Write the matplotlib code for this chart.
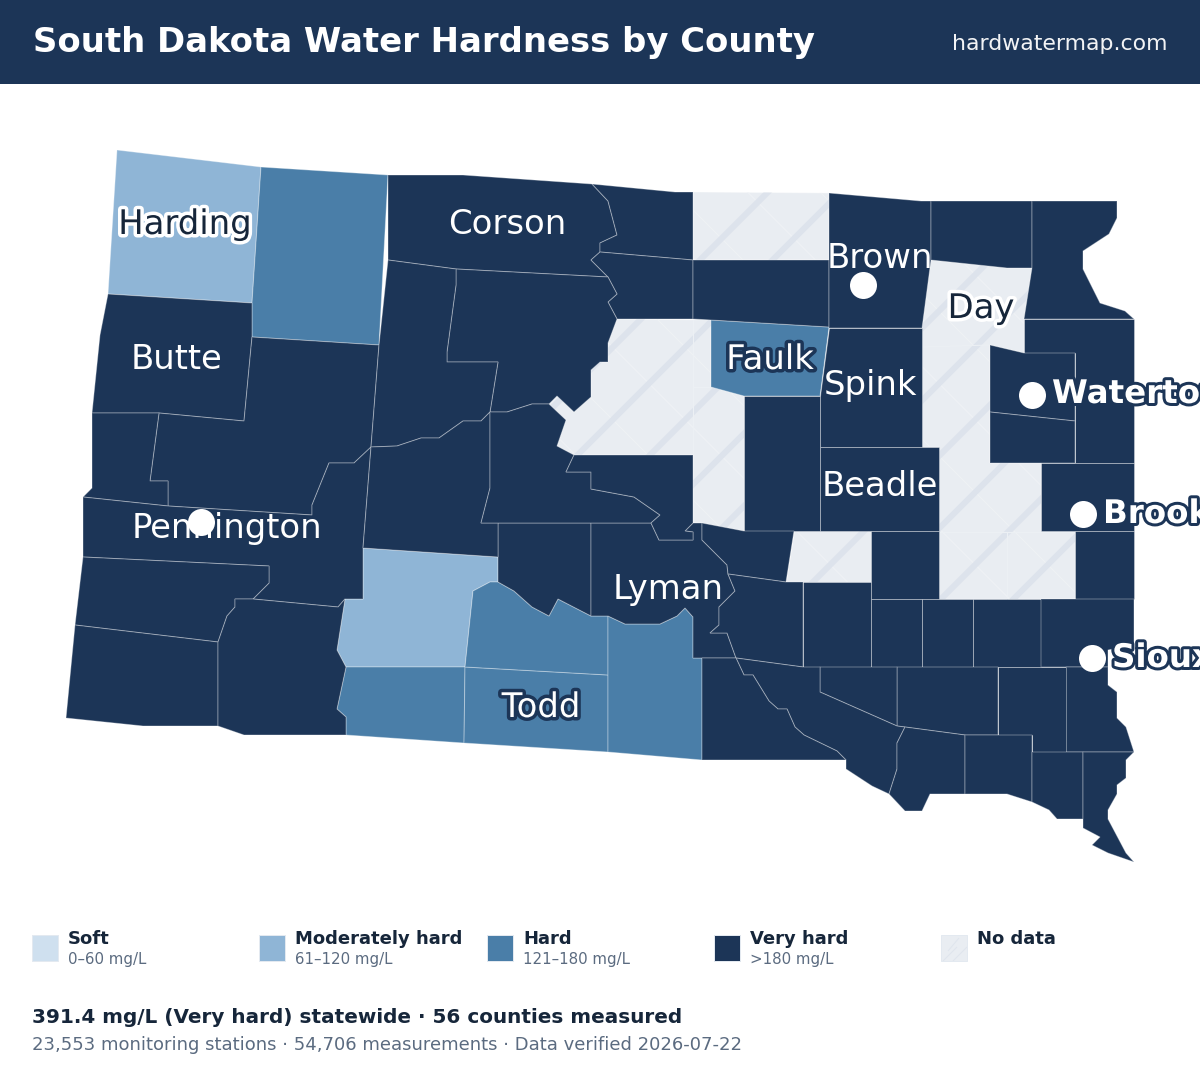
import numpy as np
import matplotlib
matplotlib.use('Agg')
import matplotlib.pyplot as plt
import matplotlib.patheffects as pe
from matplotlib.patches import Polygon, Rectangle, PathPatch
from matplotlib.path import Path
from matplotlib.collections import LineCollection

# county outlines, in picture pixels
harding = [(117,150),(261,167),(252,303),(108,294)]
perkins = [(261,167),(388,175),(379,345),(252,337),(252,303)]
butte = [(108,294),(252,303),(252,337),(244,421),(159,413),(92,413),(100,335)]
meade = [(252,337),(379,345),(371,447),(354,463),(329,463),(312,505),(312,515),(168,506),(168,481),(150,481),(159,413),(244,421)]
lawrence = [(92,413),(159,413),(150,481),(168,481),(168,506),(83,497),(92,488)]
pennington = [(83,497),(168,506),(312,515),(312,505),(329,463),(354,463),(371,447),(363,548),(363,599),(345,599),(338,607),(253,599),(269,583),(269,566),(83,557)]
custer = [(83,557),(269,566),(269,583),(253,599),(235,599),(235,607),(227,616),(218,642),(75,625)]
fall_river = [(75,625),(218,642),(218,726),(143,726),(66,718)]
oglala = [(218,642),(227,616),(235,607),(235,599),(253,599),(338,607),(345,599),(337,650),(346,667),(337,709),(346,717),(346,735),(244,735),(218,726)]
jackson = [(363,548),(498,557),(498,582),(490,582),(473,591),(465,667),(346,667),(337,650),(345,599),(363,599)]
bennett = [(346,667),(465,667),(464,743),(346,735),(346,717),(337,709)]
todd = [(465,667),(608,675),(608,752),(464,743)]
mellette = [(465,667),(473,591),(490,582),(498,582),(514,591),(532,607),(549,616),(558,599),(591,616),(608,616),(608,675)]
tripp = [(608,616),(625,624),(660,624),(677,616),(685,608),(693,617),(693,658),(702,658),(702,760),(608,752)]
jones = [(498,523),(591,523),(591,616),(558,599),(549,616),(532,607),(514,591),(498,582)]
lyman = [(591,523),(651,523),(659,540),(693,540),(693,532),(685,531),(693,523),(702,523),(702,540),(727,565),(728,574),(735,591),(719,607),(719,625),(710,633),(727,633),(736,658),(693,658),(693,617),(685,608),(677,616),(660,624),(625,624),(608,616),(591,616)]
corson = [(388,175),(463,175),(592,184),(608,201),(617,235),(600,243),(600,252),(591,260),(608,277),(456,269),(388,260)]
campbell = [(592,184),(675,192),(693,192),(693,260),(600,252),(600,243),(617,235),(608,201)]
walworth = [(600,252),(693,260),(693,319),(617,319),(608,302),(617,294),(608,277),(591,260)]
dewey = [(456,269),(608,277),(617,294),(608,302),(617,319),(608,343),(608,362),(600,362),(591,370),(591,397),(574,412),(557,396),(549,404),(532,404),(507,412),(490,412),(498,362),(447,362),(447,352),(456,285)]
ziebach = [(388,260),(456,269),(456,285),(447,352),(447,362),(498,362),(490,412),(481,421),(463,421),(439,438),(421,438),(397,446),(371,447),(379,345)]
haakon = [(371,447),(397,446),(421,438),(439,438),(463,421),(481,421),(490,412),(490,488),(481,523),(498,523),(498,557),(363,548)]
stanley = [(490,412),(507,412),(532,404),(549,404),(566,420),(557,446),(574,455),(566,472),(591,472),(591,489),(634,497),(660,515),(651,523),(481,523),(490,488)]
hughes = [(574,455),(693,455),(693,523),(685,531),(693,532),(693,540),(659,540),(651,523),(660,515),(634,497),(591,489),(591,472),(566,472)]
sully = [(617,319),(711,320),(711,387),(744,396),(744,531),(702,523),(693,523),(693,455),(574,455),(557,446),(566,420),(549,404),(557,396),(574,412),(591,397),(591,370),(600,362),(608,362),(608,343)]
mcpherson = [(693,192),(829,193),(829,260),(693,260)]
edmunds = [(693,260),(829,260),(829,327),(711,320),(693,319)]
faulk = [(711,320),(829,327),(820,396),(744,396),(711,387)]
brown = [(829,193),(921,201),(931,201),(931,260),(922,328),(829,328)]
marshall = [(931,201),(1032,201),(1032,268),(1007,268),(931,260)]
roberts = [(1032,201),(1117,201),(1117,218),(1109,234),(1083,251),(1083,269),(1100,303),(1125,311),(1134,319),(1024,319),(1032,268)]
day = [(931,260),(1007,268),(1032,268),(1024,319),(1024,353),(990,345),(990,463),(1041,463),(1041,531),(1075,531),(1075,599),(939,599),(939,447),(922,447),(922,328)]
grant = [(1024,319),(1134,319),(1134,463),(1075,463),(1075,353),(1024,353)]
codington = [(990,345),(1024,353),(1075,353),(1075,421),(990,412)]
hamlin = [(990,412),(1075,421),(1075,463),(990,463)]
brookings = [(1041,463),(1134,463),(1134,531),(1041,531)]
moody = [(1075,531),(1134,531),(1134,599),(1075,599)]
spink = [(829,328),(922,328),(922,447),(820,447),(820,396)]
beadle = [(820,447),(939,447),(939,531),(820,531)]
hand = [(744,396),(820,396),(820,531),(744,531)]
sanborn = [(794,531),(871,531),(871,582),(786,582)]
miner = [(871,531),(939,531),(939,599),(871,599)]
buffalo = [(702,523),(744,531),(794,531),(786,582),(728,574),(727,565),(702,540)]
brule = [(728,574),(786,582),(803,582),(803,667),(736,658),(727,633),(710,633),(719,625),(719,607),(735,591)]
aurora = [(803,582),(871,582),(871,667),(803,667)]
hanson = [(871,599),(922,599),(922,667),(871,667)]
mccook = [(922,599),(973,599),(973,667),(922,667)]
lake = [(973,599),(1041,599),(1041,667),(973,667)]
minnehaha = [(1041,599),(1134,599),(1134,645),(1108,650),(1108,667),(1041,667)]
lincoln = [(1066,667),(1108,667),(1108,685),(1117,692),(1117,718),(1126,727),(1134,752),(1066,752)]
turner = [(998,667),(1066,667),(1066,752),(1032,752),(1032,735),(998,735)]
hutchinson = [(897,667),(998,667),(998,735),(965,735),(905,727),(897,726)]
douglas = [(820,667),(897,667),(897,726),(820,692)]
charles_mix = [(736,658),(803,667),(820,667),(820,692),(897,726),(905,727),(897,743),(897,769),(889,794),(872,786),(846,769),(846,760),(837,751),(804,735),(795,727),(787,709),(778,709),(769,701),(753,675),(744,675)]
gregory = [(702,658),(736,658),(744,675),(753,675),(769,701),(778,709),(787,709),(795,727),(804,735),(837,751),(846,760),(702,760)]
bon_homme = [(905,727),(965,735),(965,794),(930,794),(922,811),(905,811),(889,794),(897,769),(897,743)]
yankton = [(965,735),(1032,735),(1032,802),(1007,794),(965,794)]
clay = [(1032,752),(1083,752),(1083,819),(1057,819),(1049,810),(1032,802)]
union = [(1083,752),(1134,752),(1126,760),(1126,778),(1117,785),(1117,794),(1108,810),(1108,819),(1126,853),(1134,862),(1108,853),(1092,845),(1100,837),(1083,828)]

moderately_hard = [harding, jackson]
hard = [perkins, faulk, bennett, todd, mellette, tripp]
very_hard = [butte, meade, lawrence, pennington, custer, fall_river, oglala, jones, lyman, corson,
             campbell, walworth, dewey, ziebach, haakon, stanley, hughes, edmunds, brown, marshall,
             roberts, grant, codington, hamlin, brookings, moody, spink, beadle, hand, miner, buffalo,
             brule, aurora, hanson, mccook, lake, minnehaha, lincoln, turner, hutchinson, douglas,
             charles_mix, gregory, bon_homme, yankton, clay, union]
no_data = [sully, mcpherson, day, sanborn]

# faint county borders inside the no data areas
no_data_borders = [[(693,320),(693,455)], [(693,387),(711,387)], [(922,347),(990,345)],
                   [(939,532),(1075,532)], [(1007,532),(1007,599)]]

county_names = ['Harding','Butte','Corson','Brown','Day','Faulk','Spink','Beadle','Pennington','Lyman','Todd']
county_x = [185,176,507,880,981,770,871,880,227,668,541]
county_y = [234,369,234,268,318,369,395,496,538,599,717]
county_style = ['dark_halo','plain','plain','plain','dark_halo','light_halo','plain','plain','plain','plain','light_halo']

city_names = ['Watertown','Brookings','Sioux Falls']
city_x = [1052,1103,1112]
city_y = [403,523,667]
dot_x = [863,201,1032,1083,1092]
dot_y = [285,522,395,514,658]

legend_names = ['Soft','Moderately hard','Hard','Very hard','No data']
legend_ranges = ['0–60 mg/L','61–120 mg/L','121–180 mg/L','>180 mg/L','']
legend_x = [32,259,487,714,941]
legend_colors = ['#cfe0ef','#8fb5d6','#4a7ea8','#1c3557','#e9edf2']

NAVY = '#1c3557'
INK = '#16263a'
GREY = '#5b6b80'
NO_DATA = '#e9edf2'
PX = 72 / 100  # one pixel in points


def hatch(ax, clip, x0, y0, x1, y1, thick_start, thin_start, period, thick_lw, thin_lw):
    # diagonal tile pattern of the no data fill
    thick = [[(x0, c - x0), (x1, c - x1)] for c in np.arange(thick_start, x1 + y1 + period, period)]
    thin = [[(x0, x0 - c), (x1, x1 - c)] for c in np.arange(thin_start, x1 - y0 + period, period)]
    for segs, col, lw in [(thin, '#eff2f5', thin_lw), (thick, '#dde3ec', thick_lw)]:
        lc = LineCollection(segs, colors=col, linewidths=lw, zorder=1.5)
        ax.add_collection(lc)
        lc.set_clip_path(clip)


fig = plt.figure(figsize=(12, 10.9), dpi=100)
ax = fig.add_axes([0, 0, 1, 1])
ax.set_xlim(0, 1200)
ax.set_ylim(1090, 0)
ax.axis('off')

# header band
ax.add_patch(Rectangle((0, 0), 1200, 84, facecolor=NAVY, edgecolor='none'))
ax.text(33, 52, 'South Dakota Water Hardness by County', color='white', fontsize=24.4, fontweight='bold')
ax.text(1168, 50, 'hardwatermap.com', color='white', fontsize=15.8, ha='right', alpha=0.95)

# map
edge = (1, 1, 1, 0.33)
for group, col in [(no_data, NO_DATA), (moderately_hard, legend_colors[1]),
                   (hard, legend_colors[2]), (very_hard, NAVY)]:
    for county in group:
        ax.add_patch(Polygon(county, closed=True, facecolor=col, edgecolor=edge, linewidth=1.0 * PX, zorder=2 if group is not no_data else 1))

verts, codes = [], []
for county in no_data:
    verts += county + [county[0]]
    codes += [Path.MOVETO] + [Path.LINETO] * (len(county) - 1) + [Path.CLOSEPOLY]
clip_patch = PathPatch(Path(verts, codes), facecolor='none', edgecolor='none', transform=ax.transData)
ax.add_patch(clip_patch)
hatch(ax, clip_patch, 540, 150, 1100, 620, 960, 483 - 72.5 * 8, 72.5, 6 * PX, 1.0 * PX)
for line in no_data_borders:
    xs, ys = zip(*line)
    ax.plot(xs, ys, color='#ecf0f4', lw=1.0 * PX, zorder=1.6)

# county labels
for name, x, y, style in zip(county_names, county_x, county_y, county_style):
    col, effects = 'white', None
    if style == 'dark_halo':
        col = INK
        effects = [pe.withStroke(linewidth=7 * PX, foreground='white')]
    elif style == 'light_halo':
        effects = [pe.withStroke(linewidth=7 * PX, foreground=NAVY)]
    ax.text(x, y, name, color=col, fontsize=24.4, ha='center', va='baseline', zorder=3, path_effects=effects)

# city dots go over the county names
ax.scatter(dot_x, dot_y, s=(27 * PX) ** 2, color='white', linewidths=0, zorder=4)
for name, x, y in zip(city_names, city_x, city_y):
    ax.text(x, y, name, color='white', fontsize=23.4, fontweight='bold', va='baseline', zorder=5,
            path_effects=[pe.withStroke(linewidth=6 * PX, foreground=NAVY)])

# legend
for name, rng, x, col in zip(legend_names, legend_ranges, legend_x, legend_colors):
    swatch = Rectangle((x, 935), 26, 26, facecolor=col, edgecolor='#e3e9f0', linewidth=1.0 * PX)
    ax.add_patch(swatch)
    if name == 'No data':
        segs = [[(x + k, 961), (x + k + 14, 947)] for k in (2, 12)] + [[(x + 7, 951), (x + 18, 938)]]
        lc = LineCollection(segs, colors='#dfe5ed', linewidths=1.0 * PX)
        ax.add_collection(lc)
        lc.set_clip_path(swatch)
    ax.text(x + 36, 944, name, color=INK, fontsize=13, fontweight='bold', va='baseline')
    ax.text(x + 36, 964, rng, color=GREY, fontsize=10.8, va='baseline')

# summary lines
ax.text(32, 1023, '391.4 mg/L (Very hard) statewide · 56 counties measured', color=INK, fontsize=14.4, fontweight='bold')
ax.text(32, 1050, '23,553 monitoring stations · 54,706 measurements · Data verified 2026-07-22', color=GREY, fontsize=12.98)

fig.savefig('out.png', dpi=100, facecolor='white')
